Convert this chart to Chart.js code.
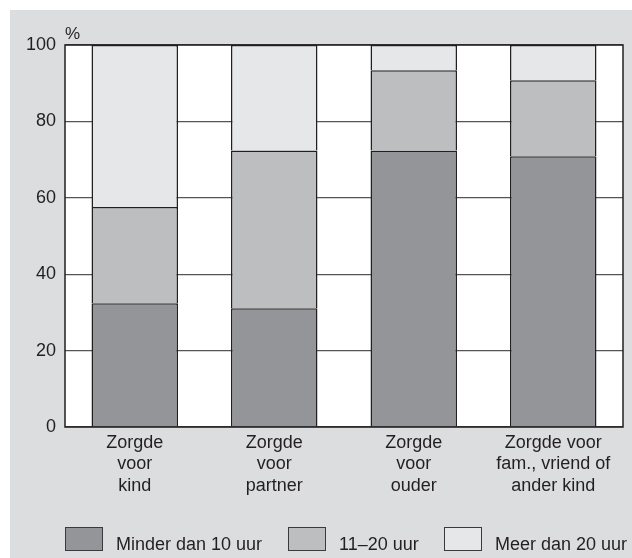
<!DOCTYPE html>
<html><head><meta charset="utf-8">
<script src="https://cdn.jsdelivr.net/npm/chart.js@4/dist/chart.umd.min.js"></script>
<style>html,body{margin:0;padding:0;background:#fff}#wrap{position:absolute;left:0;top:0;width:632px;height:558px}</style>
</head><body><div id="wrap"><canvas id="c" width="632" height="558"></canvas></div>
<script>
const categories = [["Zorgde","voor","kind"],["Zorgde","voor","partner"],["Zorgde","voor","ouder"],["Zorgde voor","fam., vriend of","ander kind"]];
const seriesNames = ["Minder dan 10 uur","11–20 uur","Meer dan 20 uur"];
const minder10 = [32.4, 31.1, 72.4, 70.9];
const uur11_20 = [25.2, 41.3, 21.0, 19.9];
const meer20 = [42.4, 27.6, 6.6, 9.2];
const yTicks = [0,20,40,60,80,100];
const colors = ["#939598","#bcbec0","#e6e7e8"];
const edge = "#231f20";
const FONT = "'Liberation Sans', Arial, sans-serif";

const bgPlugin = {
  id:'bg',
  beforeDraw(chart){
    const ctx = chart.ctx;
    ctx.save();
    ctx.fillStyle = '#dcdddf';
    ctx.fillRect(10,10,chart.width-10,chart.height-10);
    const a = chart.chartArea;
    ctx.fillStyle = '#ffffff';
    ctx.fillRect(a.left,a.top,a.right-a.left,a.bottom-a.top);
    ctx.restore();
  },
  afterDatasetsDraw(chart){
    const ctx = chart.ctx, a = chart.chartArea;
    ctx.save();
    ctx.strokeStyle = '#231f20';
    ctx.lineWidth = 1.5;
    ctx.strokeRect(a.left,a.top,a.right-a.left,a.bottom-a.top);
    ctx.fillStyle = '#231f20';
    ctx.font = '17px ' + FONT;
    ctx.textAlign = 'left';
    ctx.textBaseline = 'alphabetic';
    ctx.fillText('%', a.left, a.top - 6);
    // legend
    const boxes = [65, 288, 444];
    ctx.font = '18px ' + FONT;
    seriesNames.forEach((n,i)=>{
      const x = boxes[i], y = 527;
      ctx.fillStyle = colors[i];
      ctx.fillRect(x,y,38,24);
      ctx.strokeStyle = '#3a3a3a';
      ctx.lineWidth = 1;
      ctx.strokeRect(x+0.5,y+0.5,37,23);
      ctx.fillStyle = '#231f20';
      ctx.fillText(n, x+51, y+23);
    });
    ctx.restore();
  }
};

const dsData = [minder10, uur11_20, meer20];
new Chart(document.getElementById('c'), {
  type:'bar',
  data:{
    labels: categories,
    datasets: seriesNames.map((n,i)=>({
      label:n, data:dsData[i], backgroundColor:colors[i],
      borderColor:edge, borderWidth:{left:1.5,right:1.5,top:1.5,bottom:0}, borderSkipped:false,
      barPercentage:0.62, categoryPercentage:1
    }))
  },
  options:{
    responsive:false, animation:false,
    layout:{padding:{left:0,top:45,right:9,bottom:0}},
    plugins:{legend:{display:false}, tooltip:{enabled:false}},
    scales:{
      x:{stacked:true,
        grid:{display:false,drawTicks:false},
        border:{display:false},
        ticks:{color:'#231f20',font:{family:FONT,size:18,lineHeight:1.2},padding:5,maxRotation:0,autoSkip:false},
        afterFit(s){s.height = 131;}
      },
      y:{stacked:true,min:0,max:100,
        grid:{color:'#555555',lineWidth:1.2,drawTicks:false},
        border:{display:false},
        afterBuildTicks(s){s.ticks = yTicks.map(v=>({value:v}));},
        ticks:{color:'#231f20',font:{family:FONT,size:18},padding:9},
        afterFit(s){s.width = 65;}
      }
    }
  },
  plugins:[bgPlugin]
});
</script></body></html>
